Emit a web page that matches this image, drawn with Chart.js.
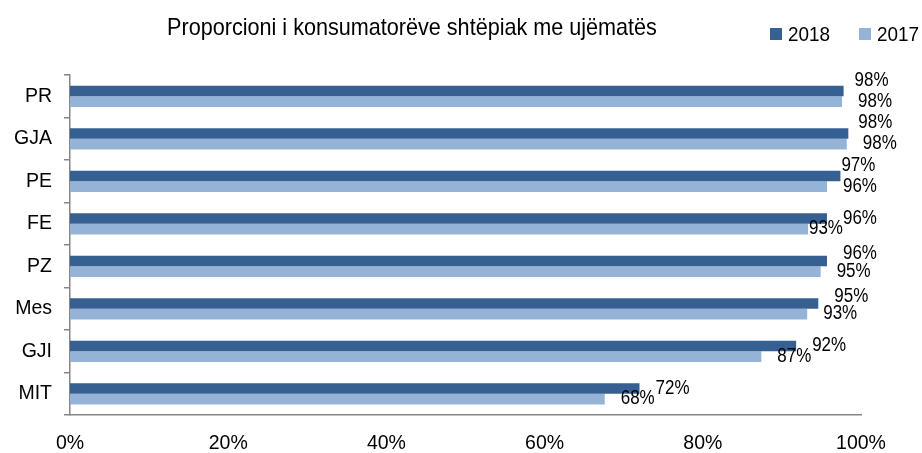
<!DOCTYPE html>
<html><head><meta charset="utf-8">
<script src="https://cdn.jsdelivr.net/npm/chart.js@4/dist/chart.umd.min.js"></script>
<style>html,body{margin:0;padding:0;background:#fff}#wrap{width:922px;height:453px;position:relative}</style>
</head><body><div id="wrap"><canvas id="c" width="922" height="453"></canvas></div>
<script>
const categories = ['PR','GJA','PE','FE','PZ','Mes','GJI','MIT'];
const series2018 = [97.8,98.4,97.4,95.7,95.7,94.6,91.8,72.0];
const series2017 = [97.6,98.2,95.7,93.3,94.9,93.2,87.4,67.6];
const seriesNames = ['2018','2017'];
const xTickValues = [0,20,40,60,80,100];
const chartTitle = 'Proporcioni i konsumatorëve shtëpiak me ujëmatës';
// label nudges (dx, dy) relative to default placement, as in the reference
const labelNudge2018 = [[-5,-10],[-6,-11],[-15,-10],[0,0],[0,-7],[0,-7],[0,0],[0,0]];
const labelNudge2017 = [[0,0],[0,0],[0,0],[-15,0],[0,0],[0,0],[0,0],[0,0]];

const FONT = '"Liberation Sans", Arial, sans-serif';
const COL18 = '#376092', COL17 = '#95B3D7', AXIS = '#868686';

function drawText(ctx, text, x, y, align, sx) {
  ctx.save();
  ctx.translate(x, y);
  ctx.scale(sx, 1);
  ctx.textAlign = align;
  ctx.textBaseline = 'middle';
  ctx.fillText(text, 0, 0);
  ctx.restore();
}

const decorPlugin = {
  id: 'decor',
  afterDatasetsDraw(chart) {
    const ctx = chart.ctx;
    ctx.save();
    ctx.fillStyle = '#000';
    ctx.font = '19.5px ' + FONT;
    const nudges = [labelNudge2018, labelNudge2017];
    chart.data.datasets.forEach((ds, di) => {
      const meta = chart.getDatasetMeta(di);
      meta.data.forEach((el, i) => {
        const [dx, dy] = nudges[di][i];
        drawText(ctx, Math.round(ds.data[i]) + '%', el.x + 16 + dx, el.y + dy, 'left', 0.87);
      });
    });
    ctx.restore();
  },
  afterDraw(chart) {
    const ctx = chart.ctx;
    ctx.save();
    ctx.fillStyle = '#000';
    ctx.font = '24px ' + FONT;
    drawText(ctx, chartTitle, 412, 28, 'center', 0.9);
    // legend
    ctx.font = '21px ' + FONT;
    let x = 770;
    chart.data.datasets.forEach((ds) => {
      ctx.fillStyle = ds.backgroundColor;
      ctx.fillRect(x, 28, 12, 12);
      ctx.fillStyle = '#000';
      drawText(ctx, ds.label, x + 18, 35, 'left', 0.9);
      x += 89;
    });
    ctx.restore();
  }
};

new Chart(document.getElementById('c'), {
  type: 'bar',
  data: {
    labels: categories,
    datasets: [
      { label: seriesNames[0], data: series2018, backgroundColor: COL18, barPercentage: 1, categoryPercentage: 0.5 },
      { label: seriesNames[1], data: series2017, backgroundColor: COL17, barPercentage: 1, categoryPercentage: 0.5 }
    ]
  },
  options: {
    indexAxis: 'y',
    responsive: false,
    animation: false,
    layout: { padding: { top: 75, right: 61, left: 0, bottom: 0 } },
    plugins: { legend: { display: false }, title: { display: false }, tooltip: { enabled: false } },
    scales: {
      y: {
        type: 'category',
        afterFit(s) { s.width = 70; },
        grid: { offset: true, drawOnChartArea: false, tickLength: 6, color: AXIS, lineWidth: 1.5 },
        border: { display: true, color: AXIS, width: 1.5 },
        ticks: { font: { family: FONT, size: 19.5 }, color: '#000', padding: 12 }
      },
      x: {
        min: 0, max: 100,
        afterFit(s) { s.height = 38; },
        afterBuildTicks(s) { s.ticks = xTickValues.map(v => ({ value: v })); },
        grid: { display: false, drawTicks: false },
        border: { display: true, color: AXIS, width: 1.5 },
        ticks: { font: { family: FONT, size: 19.5 }, color: '#000', padding: 17, callback: v => v + '%' }
      }
    }
  },
  plugins: [decorPlugin]
});
</script></body></html>
